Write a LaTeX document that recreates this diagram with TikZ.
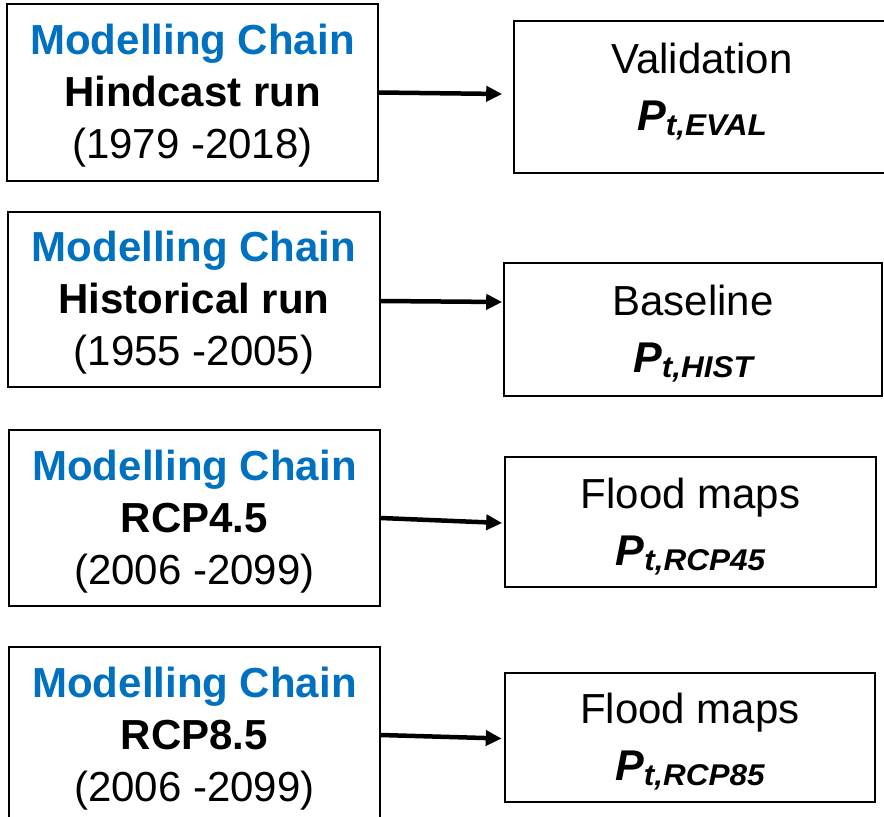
\documentclass[tikz,border=0pt]{standalone}
\usepackage{fontspec}
\setmainfont{Liberation Sans}
\usepackage{graphicx}
\usetikzlibrary{arrows.meta,calc}
\definecolor{mcblue}{RGB}{0,112,192}
\newcommand\Pvar[1]{{\fontsize{43}{43}\selectfont\bfseries\itshape P}\raisebox{-5pt}{\fontsize{30}{30}\selectfont\bfseries\itshape\scalebox{1.05}[1]{#1}}}
\newcommand\mchain{{\bfseries\color{mcblue}Modelling Chain}}
\newcommand\hstrut[1]{\rule{0pt}{#1}}
\newcommand\dstrut[1]{\rule[-#1]{0pt}{0pt}}
\begin{document}
\begin{tikzpicture}[x=1pt,y=-1pt,
  chainbox/.style={draw,line width=1.6pt,rectangle,inner sep=0pt,align=center,
    font=\fontsize{42}{52}\selectfont},
  outbox/.style={draw,line width=1.6pt,rectangle,inner sep=0pt,align=center,
    font=\fontsize{42}{57}\selectfont},
  arr/.style={line width=4.5pt,-{Triangle[length=16pt,width=15pt]}}]
\useasboundingbox (0,0) rectangle (884,817);
\clip (0,0) rectangle (884,817);

% left boxes
\node[chainbox,minimum width=371pt,minimum height=177pt] (L1) at (192.5,92.5)
  {\hstrut{37pt}\mchain\\{\bfseries Hindcast run}\\(1979 -2018)\dstrut{9pt}};
\node[chainbox,minimum width=372pt,minimum height=175pt] (L2) at (194,299.5)
  {\hstrut{37pt}\mchain\\{\bfseries Historical run}\\(1955 -2005)\dstrut{9pt}};
\node[chainbox,minimum width=371pt,minimum height=176pt] (L3) at (194.5,518)
  {\hstrut{37pt}\mchain\\{\bfseries RCP4.5}\\(2006 -2099)\dstrut{9pt}};
\node[chainbox,minimum width=371pt,minimum height=176pt] (L4) at (194.5,735)
  {\hstrut{37pt}\mchain\\{\bfseries RCP8.5}\\(2006 -2099)\dstrut{9pt}};

% right boxes
\node[outbox,minimum width=376pt,minimum height=152pt] (R1) at (702,97)
  {\hstrut{31pt}Validation\\\Pvar{t,EVAL}\dstrut{22pt}};
\node[outbox,minimum width=378pt,minimum height=133pt] (R2) at (693,329.5)
  {\hstrut{42pt}Baseline\\\Pvar{t,HIST}\dstrut{13pt}};
\node[outbox,minimum width=371pt,minimum height=130pt] (R3) at (690.5,522)
  {\hstrut{42pt}Flood maps\\\Pvar{t,RCP45}\dstrut{13pt}};
\node[outbox,minimum width=370pt,minimum height=129pt] (R4) at (690,737.5)
  {\hstrut{42pt}Flood maps\\\Pvar{t,RCP85}\dstrut{13pt}};

% arrows
\draw[arr] (L1.east) -- ($(R1.west)+(-11,-3)$);
\draw[arr] ($(L2.east)+(0,1.5)$) -- ($(R2.west)+(-1,-27.5)$);
\draw[arr] (L3.east) -- ($(R3.west)+(-2,1)$);
\draw[arr] (L4.east) -- ($(R4.west)+(-2.5,1)$);
\end{tikzpicture}
\end{document}
